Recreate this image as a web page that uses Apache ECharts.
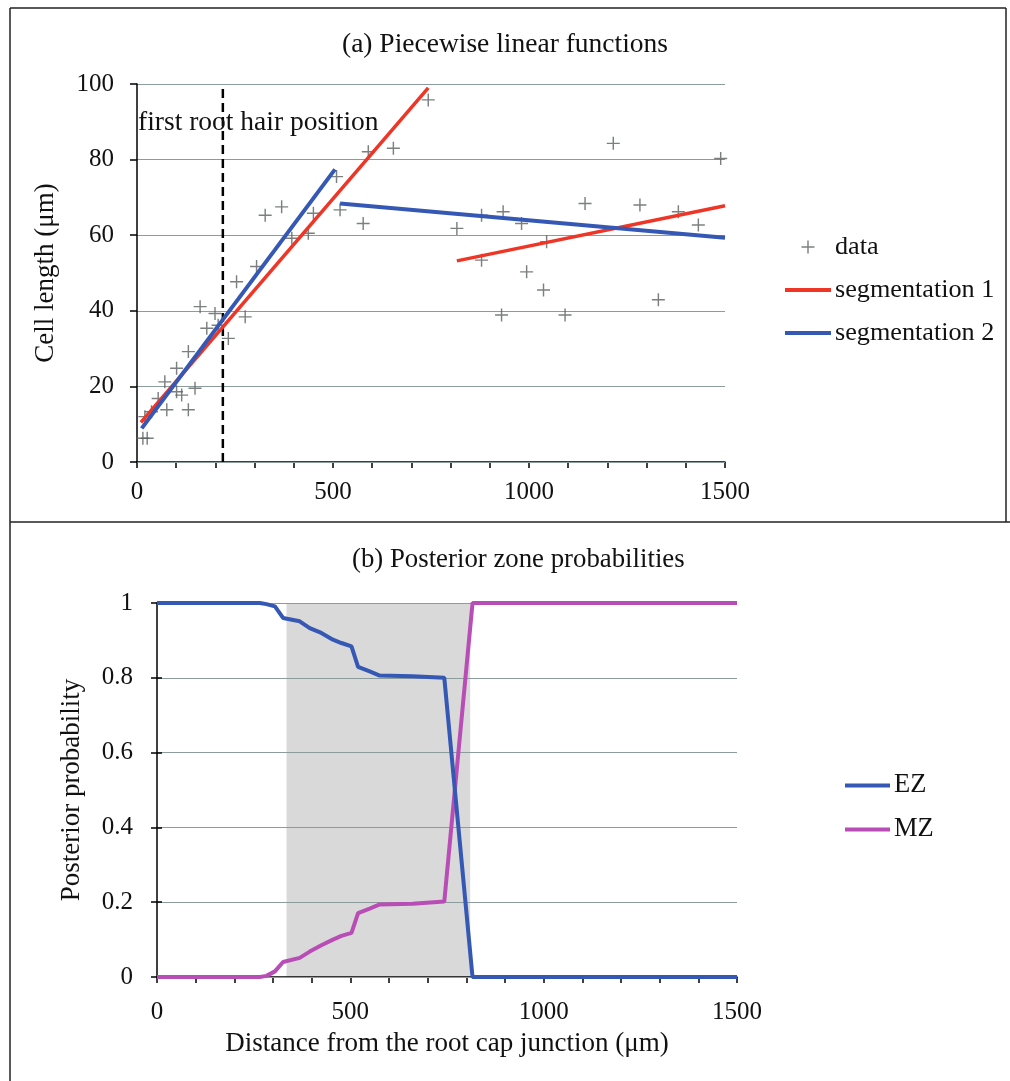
<!DOCTYPE html>
<html>
<head>
<meta charset="utf-8">
<script src="https://cdn.jsdelivr.net/npm/echarts@6/dist/echarts.min.js"></script>
<style>
html,body{margin:0;padding:0;background:#fff;}
#chart{width:1010px;height:1081px;}
</style>
</head>
<body>
<div id="chart"></div>
<script>
// ---------- Panel (a) data ----------
const dataX = [20, 15, 26, 37, 54, 71, 76, 101, 101, 114, 131, 131, 148, 161, 178, 199, 207, 233, 254, 276, 305, 327, 369, 395, 437, 450, 509, 518, 577, 590, 654, 743, 816, 879, 879, 934, 981, 994, 1037, 1045, 930, 1092, 1143, 1215, 1283, 1330, 1381, 1432, 1489];
const dataY = [12.0, 6.3, 6.3, 13.3, 16.8, 21.2, 13.8, 24.8, 18.6, 17.7, 29.2, 13.8, 19.5, 41.1, 35.4, 39.3, 36.2, 32.7, 47.7, 38.4, 51.7, 65.3, 67.5, 59.2, 60.5, 65.8, 75.5, 66.7, 63.1, 82.1, 83.0, 95.8, 61.8, 53.4, 65.3, 66.2, 63.1, 50.3, 45.5, 58.3, 38.9, 38.9, 68.4, 84.3, 68.0, 42.9, 66.2, 62.7, 80.3];
// segmentation 1 (red): two pieces
const seg1aX = [10, 743];
const seg1aY = [10.5, 99.0];
const seg1bX = [816, 1500];
const seg1bY = [53.2, 67.8];
// segmentation 2 (blue): two pieces
const seg2aX = [12, 505];
const seg2aY = [8.9, 77.4];
const seg2bX = [518, 1500];
const seg2bY = [68.4, 59.3];
const rootHairX = 219;
const yTicksA = [0, 20, 40, 60, 80, 100];

// ---------- Panel (b) data ----------
const posX = [0, 266, 283, 305, 326, 369, 395, 425, 455, 477, 503, 520, 550, 576, 661, 743, 816, 1500];
const ezY = [1, 1, 0.997, 0.991, 0.960, 0.951, 0.933, 0.920, 0.902, 0.893, 0.884, 0.829, 0.817, 0.806, 0.804, 0.800, 0, 0];
const mzY = [0, 0, 0.003, 0.015, 0.040, 0.051, 0.068, 0.085, 0.100, 0.110, 0.118, 0.171, 0.183, 0.194, 0.196, 0.202, 1, 1];
const shadeRange = [335, 810];

const FONT = 'Liberation Serif';
const pairs = (xs, ys) => xs.map((x, i) => [x, ys[i]]);

const RED = '#ee3526', BLUE = '#3558b4', MAG = '#b84db6', GRID = '#8c9b9b';
const plusPath = 'path://M8.9,0H11.1V8.9H20V11.1H11.1V20H8.9V11.1H0V8.9H8.9Z';

const axisText = {fontSize: 25, fontFamily: FONT, color: '#111'};
const plain = v => String(v);
const noSym = {opacity: 0};
const legLine = c => ({color: c, width: 4});

const chart = echarts.init(document.getElementById('chart'), null, {renderer: 'canvas'});
chart.setOption({
  animation: false,
  backgroundColor: '#fff',
  textStyle: {fontFamily: FONT},
  title: [
    {text: '(a) Piecewise linear functions', left: 'center', top: 26,
     textStyle: {fontFamily: FONT, fontSize: 27.5, fontWeight: 'normal', color: '#111'}},
    {text: '(b) Posterior zone probabilities', left: 347, top: 541,
     textStyle: {fontFamily: FONT, fontSize: 26.8, fontWeight: 'normal', color: '#111'}}
  ],
  grid: [
    {left: 137, top: 84, width: 588, height: 378},
    {left: 157, top: 603, width: 580, height: 374}
  ],
  legend: [
    {orient: 'vertical', left: 783, top: 234, padding: 0, itemWidth: 46, itemHeight: 13, itemGap: 17,
     textStyle: {fontFamily: FONT, fontSize: 26.2, color: '#111', padding: [0,0,0,-1]},
     data: ['data',
            {name: 'segmentation 1', itemStyle: noSym, lineStyle: legLine(RED)},
            {name: 'segmentation 2', itemStyle: noSym, lineStyle: legLine(BLUE)}]},
    {orient: 'vertical', left: 843, top: 772, padding: 0, itemWidth: 45, itemHeight: 13, itemGap: 17,
     textStyle: {fontFamily: FONT, fontSize: 26.5, color: '#111', padding: [0,0,0,-1]},
     data: [{name: 'EZ', itemStyle: noSym, lineStyle: legLine(BLUE)},
            {name: 'MZ', itemStyle: noSym, lineStyle: legLine(MAG)}]}
  ],
  xAxis: [
    {gridIndex: 0, type: 'value', min: 0, max: 1500, interval: 500,
     axisLine: {show: true, lineStyle: {color: '#000', width: 1.5}},
     axisTick: {show: true, length: 6, lineStyle: {color: '#000', width: 1.5}},
     minorTick: {show: true, splitNumber: 5, length: 6, lineStyle: {color: '#000', width: 1.5}},
     splitLine: {show: false},
     axisLabel: Object.assign({margin: 18, formatter: plain}, axisText)},
    {gridIndex: 1, type: 'value', min: 0, max: 1500, interval: 500,
     axisLine: {show: true, lineStyle: {color: '#000', width: 1.5}},
     axisTick: {show: true, length: 6, lineStyle: {color: '#000', width: 1.5}},
     minorTick: {show: true, splitNumber: 5, length: 6, lineStyle: {color: '#000', width: 1.5}},
     splitLine: {show: false},
     axisLabel: Object.assign({margin: 23, formatter: plain}, axisText),
     name: 'Distance from the root cap junction (μm)', nameLocation: 'middle', nameGap: 53,
     nameTextStyle: {fontFamily: FONT, fontSize: 27, color: '#111'}}
  ],
  yAxis: [
    {gridIndex: 0, type: 'value', min: 0, max: 100, interval: 20, z: 1,
     axisLine: {show: true, lineStyle: {color: '#000', width: 1.5}},
     axisTick: {show: true, length: 7, lineStyle: {color: '#000', width: 1.5}},
     splitLine: {show: true, lineStyle: {color: GRID, width: 1}},
     axisLabel: Object.assign({margin: 23, formatter: plain}, axisText),
     name: 'Cell length (μm)', nameLocation: 'middle', nameGap: 78,
     nameTextStyle: {fontFamily: FONT, fontSize: 27, color: '#111'}},
    {gridIndex: 1, type: 'value', min: 0, max: 1, interval: 0.2, z: 1,
     axisLine: {show: true, lineStyle: {color: '#000', width: 1.5}},
     axisTick: {show: true, length: 6, lineStyle: {color: '#000', width: 1.5}},
     splitLine: {show: true, lineStyle: {color: GRID, width: 1}},
     axisLabel: Object.assign({margin: 24, formatter: plain}, axisText),
     name: 'Posterior probability', nameLocation: 'middle', nameGap: 72,
     nameTextStyle: {fontFamily: FONT, fontSize: 27, color: '#111'}},
    {gridIndex: 1, type: 'value', min: 0, max: 1, interval: 0.2, position: 'left', z: 1,
     axisLine: {show: false}, axisLabel: {show: false}, splitLine: {show: false},
     axisTick: {show: true, inside: true, length: 5, lineStyle: {color: '#000', width: 1.5}}}
  ],
  graphic: [
    {type: 'text', left: 138, top: 109, z: 10,
     style: {text: 'first root hair position', fontFamily: FONT, fontSize: 27.5, fill: '#111'}},
    {type: 'line', shape: {x1: 10, y1: 8, x2: 1006, y2: 8}, style: {stroke: '#222', lineWidth: 1.5}},
    {type: 'line', shape: {x1: 10, y1: 8, x2: 10, y2: 1081}, style: {stroke: '#222', lineWidth: 1.5}},
    {type: 'line', shape: {x1: 1006, y1: 8, x2: 1006, y2: 522}, style: {stroke: '#222', lineWidth: 1.5}},
    {type: 'line', shape: {x1: 10, y1: 522, x2: 1010, y2: 522}, style: {stroke: '#222', lineWidth: 1.5}}
  ],
  series: [
    {name: 'data', type: 'scatter', xAxisIndex: 0, yAxisIndex: 0, z: 3,
     symbol: plusPath, symbolSize: 13,
     itemStyle: {color: '#5a5f60'},
     data: pairs(dataX, dataY)},
    {name: 'root hair', type: 'line', xAxisIndex: 0, yAxisIndex: 0, z: 4, symbol: 'none', silent: true,
     lineStyle: {color: '#000', width: 2.5, type: [9, 5]},
     data: [[rootHairX, yTicksA[0]], [rootHairX, yTicksA[yTicksA.length - 1]]]},
    {name: 'segmentation 1', type: 'line', xAxisIndex: 0, yAxisIndex: 0, z: 5, symbol: 'none',
     color: RED, lineStyle: {color: RED, width: 3.5}, data: pairs(seg1aX, seg1aY)},
    {name: 'segmentation 1', type: 'line', xAxisIndex: 0, yAxisIndex: 0, z: 5, symbol: 'none',
     color: RED, lineStyle: {color: RED, width: 3.5}, data: pairs(seg1bX, seg1bY)},
    {name: 'segmentation 2', type: 'line', xAxisIndex: 0, yAxisIndex: 0, z: 6, symbol: 'none',
     color: BLUE, lineStyle: {color: BLUE, width: 4}, data: pairs(seg2aX, seg2aY)},
    {name: 'segmentation 2', type: 'line', xAxisIndex: 0, yAxisIndex: 0, z: 6, symbol: 'none',
     color: BLUE, lineStyle: {color: BLUE, width: 4}, data: pairs(seg2bX, seg2bY)},
    {name: 'shade', type: 'line', xAxisIndex: 1, yAxisIndex: 1, z: 0, symbol: 'none', silent: true,
     lineStyle: {width: 0}, areaStyle: {color: '#d9d9d9', opacity: 1},
     data: [[shadeRange[0], 1], [shadeRange[1], 1]]},
    {name: 'EZ', type: 'line', xAxisIndex: 1, yAxisIndex: 1, z: 5, symbol: 'none',
     color: BLUE, lineStyle: {color: BLUE, width: 4}, data: pairs(posX, ezY)},
    {name: 'MZ', type: 'line', xAxisIndex: 1, yAxisIndex: 1, z: 4, symbol: 'none',
     color: MAG, lineStyle: {color: MAG, width: 4}, data: pairs(posX, mzY)}
  ]
});
</script>
</body>
</html>
